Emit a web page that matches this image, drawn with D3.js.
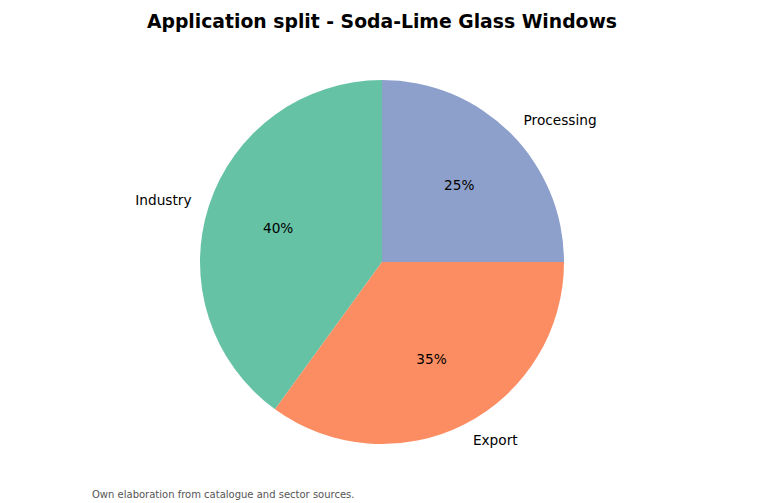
<!DOCTYPE html>
<html><head><meta charset="utf-8">
<script src="https://cdn.jsdelivr.net/npm/d3@7"></script>
<style>body{margin:0;background:#fff}svg{display:block}text{font-family:"DejaVu Sans",sans-serif}</style>
</head><body>
<svg id="c" width="765" height="503"></svg>
<script>
const categories = ["Industry", "Export", "Processing"];
const values = [40, 35, 25];
const colors = ["#66c2a5", "#fc8d62", "#8da0cb"];
const title = "Application split - Soda-Lime Glass Windows";
const note = "Own elaboration from catalogue and sector sources.";

const svg = d3.select("#c");
const cx = 382, cy = 262, r = 182;
const data = categories.map((c, i) => ({cat: c, v: values[i], col: colors[i]}));
const total = d3.sum(values);

const pie = d3.pie().value(d => d.v).sort(null).startAngle(0).endAngle(-2 * Math.PI);
const arcs = pie(data);
const arc = d3.arc().innerRadius(0).outerRadius(r);
const g = svg.append("g").attr("transform", `translate(${cx},${cy})`);

g.selectAll("path").data(arcs).join("path")
  .attr("d", arc).attr("fill", d => d.data.col);

function pos(d, k) {
  const a = (d.startAngle + d.endAngle) / 2;
  return [Math.sin(a) * r * k, -Math.cos(a) * r * k];
}

g.selectAll("text.lbl").data(arcs).join("text").attr("class", "lbl")
  .attr("x", d => pos(d, 1.1)[0]).attr("y", d => pos(d, 1.1)[1])
  .attr("text-anchor", d => pos(d, 1.1)[0] >= 0 ? "start" : "end")
  .attr("dominant-baseline", "central")
  .attr("font-size", 13.7).attr("fill", "#000")
  .text(d => d.data.cat);

g.selectAll("text.pct").data(arcs).join("text").attr("class", "pct")
  .attr("x", d => pos(d, 0.6)[0]).attr("y", d => pos(d, 0.6)[1])
  .attr("text-anchor", "middle")
  .attr("dominant-baseline", "central")
  .attr("font-size", 13.7).attr("fill", "#000")
  .text(d => Math.round(d.data.v / total * 100) + "%");

svg.append("text").attr("x", cx).attr("y", 27.5).attr("text-anchor", "middle")
  .attr("font-size", 18.8).attr("font-weight", "bold").text(title);

svg.append("text").attr("x", 92).attr("y", 498)
  .attr("font-size", 10).attr("fill", "#555").text(note);
</script>
</body></html>
